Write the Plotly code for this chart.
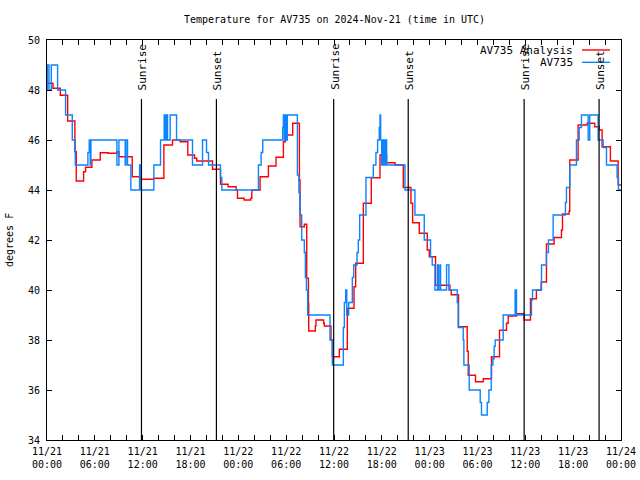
import pandas as pd
import plotly.graph_objects as go

# ---------------- data (hours since 2024-11-21 00:00 UTC) ----------------
base_time = "2024-11-21 00:00"

obs_hours = [0.0, 0.05, 0.25, 0.54, 1.33, 2.33, 3.17, 3.55, 5.13, 5.3, 5.42, 5.51, 8.77, 9.02, 9.81, 9.9,
             10.1, 10.52, 11.61, 11.8, 13.4, 14.24, 14.7, 14.82, 14.95, 15.12, 15.45, 16.25, 18.25, 19.51,
             20.01, 20.26, 21.76, 21.93, 26.52, 26.86, 27.06, 29.57, 29.65, 29.77, 29.9, 29.98, 30.15,
             31.41, 31.6, 31.74, 31.95, 32.28, 32.41, 32.54, 32.7, 35.5, 35.79, 37.17, 37.3, 37.47, 37.6,
             37.84, 38.3, 38.47, 38.89, 39.05, 39.22, 40.01, 40.93, 41.26, 41.47, 41.68, 41.77, 41.85,
             41.98, 42.1, 42.19, 42.31, 42.4, 42.48, 42.6, 44.9, 46.15, 47.32, 48.11, 48.32, 48.66, 48.99,
             49.08, 49.28, 49.37, 50.12, 50.41, 51.46, 51.58, 52.21, 52.29, 52.96, 54.34, 54.5, 55.22,
             55.43, 55.72, 55.93, 56.09, 56.22, 57.22, 58.72, 58.89, 60.77, 60.9, 62.03, 62.65, 62.9,
             63.49, 65.03, 65.16, 65.57, 66.41, 66.75, 67.04, 67.88, 68.08, 69.13, 69.76, 70.18, 71.51,
             71.68, 72.0]
obs_temps = [48, 49, 48, 49, 48, 47, 46, 45, 45.5, 46, 45, 46, 45, 46, 45, 46,
             45, 44, 45, 44, 45, 46, 47, 46, 47, 46, 47, 46, 45, 46,
             45.5, 45, 44.5, 44, 45, 45.5, 46, 46.5, 47, 46, 47, 46, 47,
             44.6, 43.9, 43.0, 42.0, 41.5, 40.5, 40.0, 39.0, 38.0, 37.0, 38.5, 39.5, 40.0, 39.0,
             39.5, 40.5, 41.0, 41.5, 42.0, 43.0, 44.5, 45.0, 45.5, 46.0, 46.5, 47.0, 46.0,
             45.0, 46, 45, 46, 45, 46, 45, 44.0, 43.0, 42.0, 41.33, 41.0, 40.0, 41.0,
             40.0, 41, 40, 41, 40, 39.5, 38.5, 38.0, 37.0, 36.0, 35.5, 35.0, 35.5,
             36.0, 37.0, 37.25, 37.75, 38.0, 39.0, 40.0, 39.0, 39.6, 40.0, 41.0, 41.5, 42.0,
             43.0, 43.5, 44.1, 45.0, 46.0, 46.5, 47.0, 46.0, 47.0, 46.0, 45.7, 45.0, 44.5,
             44.0, 44.0]

ana_hours = [0.0, 0.75, 1.67, 2.59, 3.5, 3.67, 4.59, 4.84, 5.63, 6.68, 7.68, 8.77, 9.02, 10.69, 11.69,
             13.4, 14.66, 15.74, 16.7, 17.66, 18.5, 18.79, 20.76, 21.76, 22.72, 23.72, 23.89, 24.73,
             25.56, 25.69, 26.73, 27.77, 28.73, 29.65, 29.9, 30.82, 31.66, 31.74, 32.28, 32.58, 32.79,
             32.83, 33.66, 33.74, 34.7, 34.78, 35.62, 35.79, 36.67, 37.67, 38.51, 38.72, 39.68, 40.68,
             41.77, 42.6, 43.65, 44.69, 45.65, 45.86, 46.7, 47.7, 47.95, 48.74, 50.54, 50.71, 51.62,
             52.71, 52.84, 53.75, 54.72, 55.76, 56.76, 57.64, 57.85, 58.9, 59.85, 60.64, 61.39, 61.98,
             62.65, 63.61, 64.53, 64.66, 65.49, 65.57, 66.62, 67.75, 68.71, 69.25, 69.63, 70.67, 71.64,
             72.0]
ana_temps = [48.27, 48.07, 47.79, 46.76, 45.53, 44.36, 44.73, 44.91, 45.2, 45.49, 45.47, 45.53, 45.33, 44.53, 44.43,
             44.47, 45.8, 46.0, 45.93, 45.4, 45.27, 45.16, 44.83, 44.23, 44.13, 44.0, 43.67, 43.6,
             43.67, 44.0, 44.53, 44.96, 45.31, 45.93, 46.2, 46.67, 44.4, 42.53, 42.63, 40.47, 39.47,
             38.36, 38.56, 38.8, 38.67, 38.56, 38.0, 37.33, 37.63, 39.27, 40.13, 41.07, 43.47, 44.49,
             45.4, 45.09, 45.0, 44.1, 43.47, 42.69, 42.27, 41.6, 41.33, 40.19, 40.0, 39.81, 38.53,
             37.55, 36.59, 36.33, 36.45, 37.33, 38.39, 38.67, 38.96, 39.05, 38.8, 39.65, 39.99, 40.32,
             41.84, 42.1, 42.4, 43.04, 43.15, 45.2, 46.6, 46.67, 46.53, 46.4, 45.73, 45.16, 44.2,
             44.2]

sunrise_hours = [11.85, 35.96, 59.85]
sunset_hours = [21.25, 45.31, 69.25]

tick_hours = list(range(0, 73, 2))
tick_labels = ["11/21<br>00:00", "11/21<br>06:00", "11/21<br>12:00", "11/21<br>18:00",
               "11/22<br>00:00", "11/22<br>06:00", "11/22<br>12:00", "11/22<br>18:00",
               "11/23<br>00:00", "11/23<br>06:00", "11/23<br>12:00", "11/23<br>18:00",
               "11/24<br>00:00"]

title_text = "Temperature for AV735 on 2024-Nov-21 (time in UTC)"
ytitle_text = "degrees F"
series_names = ["AV735 Analysis", "AV735"]

# ---------------- build ----------------
t0 = pd.Timestamp(base_time)
def to_time(hrs):
    return [t0 + pd.Timedelta(hours=h) for h in hrs]

FONT = "DejaVu Sans Mono"
RED = "#FF0000"
BLUE = "#0A84FF"

fig = go.Figure()
fig.add_trace(go.Scatter(x=to_time(ana_hours), y=ana_temps, mode="lines", line_shape="hv",
                         line=dict(color=RED, width=1.4), name=series_names[0], showlegend=False))
fig.add_trace(go.Scatter(x=to_time(obs_hours), y=obs_temps, mode="lines", line_shape="hv",
                         line=dict(color=BLUE, width=1.4), name=series_names[1], showlegend=False))

line_top = 47.64
for hrs, label in [(sunrise_hours, "Sunrise"), (sunset_hours, "Sunset")]:
    for h in hrs:
        t = t0 + pd.Timedelta(hours=h)
        fig.add_shape(type="line", xref="x", yref="y", x0=t, x1=t, y0=34, y1=line_top,
                      line=dict(color="black", width=1.2))
        fig.add_annotation(x=t, y=line_top + 0.28, xref="x", yref="y", text=label, textangle=-90,
                           showarrow=False, xanchor="center", yanchor="bottom", xshift=1,
                           font=dict(family=FONT, size=11, color="black"))

W, H = 640, 480
L, R, T, B = 47, 621, 40, 440          # plot-area edges in window pixels
def px(xp):
    return (xp - L) / (R - L)
def py(yp):
    return (B - yp) / (B - T)

for i, (name, col) in enumerate(zip(series_names, [RED, BLUE])):
    yy = 50 + 12.3 * i
    fig.add_annotation(x=px(575), y=py(yy), xref="paper", yref="paper", text=name, showarrow=False,
                       xanchor="right", yanchor="middle", font=dict(family=FONT, size=11, color="black"))
    fig.add_shape(type="line", xref="paper", yref="paper", x0=px(582), x1=px(610), y0=py(yy), y1=py(yy),
                  line=dict(color=col, width=1.4))

fig.add_annotation(x=0.5, y=py(20), xref="paper", yref="paper", text=title_text, showarrow=False,
                   xanchor="center", yanchor="middle", font=dict(family=FONT, size=10, color="black"))
fig.add_annotation(x=px(9), y=0.5, xref="paper", yref="paper", text=ytitle_text, showarrow=False,
                   textangle=-90, xanchor="center", yanchor="middle", font=dict(family=FONT, size=10, color="black"))

tick_vals = to_time(tick_hours)
tick_text = [tick_labels[h // 6] if h % 6 == 0 else "" for h in tick_hours]

fig.update_layout(
    width=W, height=H,
    margin=dict(l=L, r=W - R, t=T, b=H - B, pad=0, autoexpand=False),
    paper_bgcolor="white", plot_bgcolor="white",
    showlegend=False,
    xaxis=dict(type="date", range=[t0, t0 + pd.Timedelta(hours=72)], tickmode="array",
               tickvals=tick_vals, ticktext=tick_text, ticks="inside", ticklen=5, tickcolor="black",
               showline=True, linecolor="black", linewidth=1, mirror="allticks", showgrid=False,
               zeroline=False, automargin=False,
               tickfont=dict(family=FONT, size=10, color="black"), ticklabelstandoff=2),
    yaxis=dict(range=[34, 50], tickmode="linear", tick0=34, dtick=2, ticks="inside", ticklen=5,
               tickcolor="black", showline=True, linecolor="black", linewidth=1, mirror="allticks",
               showgrid=False, zeroline=False, automargin=False,
               tickfont=dict(family=FONT, size=10, color="black"), ticklabelstandoff=4),
)

fig.write_html("out.html", config={"displayModeBar": False},
               post_script="document.body.style.margin='0px';")
